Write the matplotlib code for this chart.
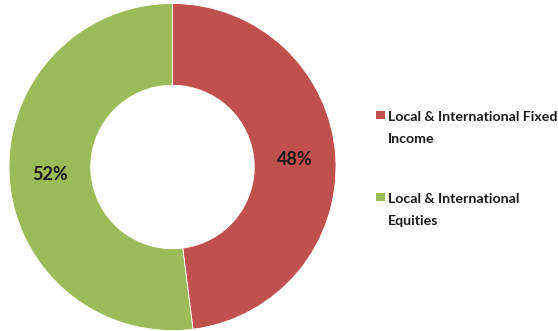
import matplotlib
matplotlib.use('Agg')
import matplotlib.pyplot as plt
from matplotlib.patches import Rectangle

labels = ['Local & International Fixed\nIncome', 'Local & International\nEquities']
values = [48, 52]
colors = ['#C0504D', '#9BBB59']

W, H = 558, 331
fig = plt.figure(figsize=(W / 100, H / 100), dpi=100)
fig.patch.set_facecolor('white')

# donut: centre (172.5, 167) px, radius ~163.5 px
r_px = 163.5
cx, cy = 172.5, 167
ax = fig.add_axes([(cx - r_px) / W, (H - cy - r_px) / H, 2 * r_px / W, 2 * r_px / H])
wedges, texts, autotexts = ax.pie(
    values, colors=colors, startangle=90, counterclock=False,
    autopct='%d%%', pctdistance=0.75, radius=1,
    wedgeprops=dict(width=0.5, edgecolor='white', linewidth=0.6),
    textprops=dict(fontsize=13, fontweight='bold', color='#1a1a1a', family='Lato'))
ax.set_xlim(-1, 1)
ax.set_ylim(-1, 1)
ax.set_aspect('auto')
ax.axis('off')

# legend drawn by hand so the square lines up with the first text line
line_pitch = 22.5
legend_base = [120.7, 202.7]   # baseline of first label line, px from top
for lab, col, yb in zip(labels, colors, legend_base):
    fig.patches.append(Rectangle((376 / W, (H - yb + 1.5) / H), 8.5 / W, 8.5 / H,
                                 transform=fig.transFigure, facecolor=col,
                                 edgecolor='none'))
    # va='baseline' anchors the last line of a multi-line text
    fig.text(388 / W, (H - yb - line_pitch) / H, lab, ha='left', va='baseline',
             fontsize=10.2, fontweight='bold', color='#1a1a1a', family='Lato',
             linespacing=2.0)

fig.savefig('out.png', dpi=100, facecolor='white')
